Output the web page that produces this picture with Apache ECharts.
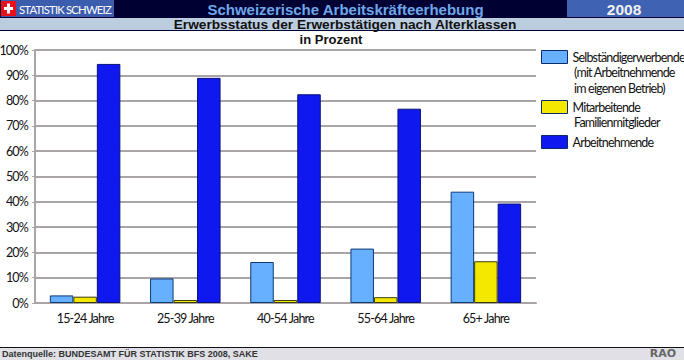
<!DOCTYPE html>
<html><head><meta charset="utf-8">
<style>html,body{margin:0;padding:0;background:#fff}#c{width:684px;height:360px}
#c svg text[style*="Lato"]{letter-spacing:-0.8px}</style>
<script src="https://cdn.jsdelivr.net/npm/echarts@6/dist/echarts.min.js"></script>
</head><body><div id="c"></div>
<script>
const categories = ['15-24 Jahre','25-39 Jahre','40-54 Jahre','55-64 Jahre','65+ Jahre'];
const selbst = [3, 9.7, 16.2, 21.5, 44];
const mitarb = [2.5, 1.2, 1.2, 2.3, 16.5];
const arbeit = [94.5, 89, 82.5, 76.8, 39.3];
const nameSelbst = 'Selbständigerwerbende\n(mit Arbeitnehmende\nim eigenen Betrieb)';
const nameMitarb = 'Mitarbeitende\nFamilienmitglieder';
const nameArbeit = 'Arbeitnehmende';
const mainTitle = 'Schweizerische Arbeitskräfteerhebung';
const subTitle = 'Erwerbsstatus der Erwerbstätigen nach Alterklassen';
const unitTitle = 'in Prozent';
const brand = 'STATISTIK SCHWEIZ';
const year = '2008';
const sourceText = 'Datenquelle: BUNDESAMT FÜR STATISTIK BFS 2008, SAKE';
const creditText = 'RAO';

const legendFont = {fontFamily:'Lato', fontSize:12.5, color:'#111'};
const mkLegend = (name, top) => ({
  data:[name], orient:'vertical', left:541, top, itemWidth:26, itemHeight:13, padding:0, itemGap:0,
  itemStyle:{borderColor:'#0a2a6a', borderWidth:1},
  selectedMode:false, formatter:n=>n.split('\n')[0], textStyle:legendFont, icon:'rect'
});
const mkSeries = (name,data,color,border) => ({
  name, type:'bar', data, barWidth:23.5, barGap:'0%',
  itemStyle:{color, borderColor:border, borderWidth:1}
});
const rect = (x,y,w,h,fill,z=0) => ({type:'rect',shape:{x,y,width:w,height:h},style:{fill},z,silent:true});
const text = (x,y,t,font,fill,align='left') => ({type:'text',x,y,z:5,silent:true,
  style:{text:t,font,fill,align,verticalAlign:'middle'}});
const contLines = (name,x,y) => name.split('\n').slice(1).map((l,i)=>
  text(x,y+i*16,l,'12.5px Lato','#111'));

const chart = echarts.init(document.getElementById('c'),null,{renderer:'svg'});
chart.setOption({
  animation:false,
  backgroundColor:'#fff',
  grid:{left:35,right:148,top:50,bottom:57,containLabel:false,outerBoundsMode:'none'},
  xAxis:{type:'category',data:categories,
    axisLine:{show:true,lineStyle:{color:'#a8a4a8',width:2}},
    axisTick:{show:false},
    axisLabel:{fontFamily:'Lato',fontSize:12.5,color:'#111',margin:9}},
  yAxis:{type:'value',min:0,max:100,interval:10,
    axisLine:{show:true,lineStyle:{color:'#a8a4a8',width:2}},
    axisTick:{show:true,length:3,lineStyle:{color:'#a8a4a8'}},
    axisLabel:{fontFamily:'Lato',fontSize:12.5,color:'#111',margin:7,formatter:'{value}%'},
    splitLine:{show:true,lineStyle:{color:'#a8a4a8',width:2}}},
  legend:[mkLegend(nameSelbst,50),mkLegend(nameMitarb,100),mkLegend(nameArbeit,135)],
  series:[
    mkSeries(nameSelbst,selbst,'#66b0ff','#0d3a78'),
    mkSeries(nameMitarb,mitarb,'#f5e800','#3a3a10'),
    mkSeries(nameArbeit,arbeit,'#1018f0','#08107a')
  ],
  graphic:{elements:[
    rect(0,0,684,18,'#000033'),
    rect(1,0,113,17,'#3c5cae',1),
    rect(567,0,117,17,'#3f62b2',1),
    rect(1,1,15,15,'#e8101c',2),
    rect(7,3.5,3,10,'#fff',3),
    rect(4,7,9,3,'#fff',3),
    text(19,9,brand,'11.3px Lato','#fff'),
    text(345.5,9,mainTitle,'bold 15px "Liberation Sans"','#6fa8e8','center'),
    text(624,9.5,year,'bold 15.5px "Liberation Sans"','#f0f0f0','center'),
    rect(0,18,684,12,'#bccde0'),
    rect(0,30,684,1,'#000033',1),
    text(345,24,subTitle,'bold 13.7px "Liberation Sans"','#111','center'),
    text(331,39,unitTitle,'bold 13px "Liberation Sans"','#111','center'),
    rect(0,347,684,1,'#111'),
    rect(0,348,684,12,'#e0e0e6'),
    text(2,354,sourceText,'bold 9px "Liberation Sans"','#333'),
    text(676,353,creditText,'bold 11px "DejaVu Sans"','#666','right'),
    ...contLines(nameSelbst,574,72),
    ...contLines(nameMitarb,574,122)
  ]}
});
</script></body></html>
